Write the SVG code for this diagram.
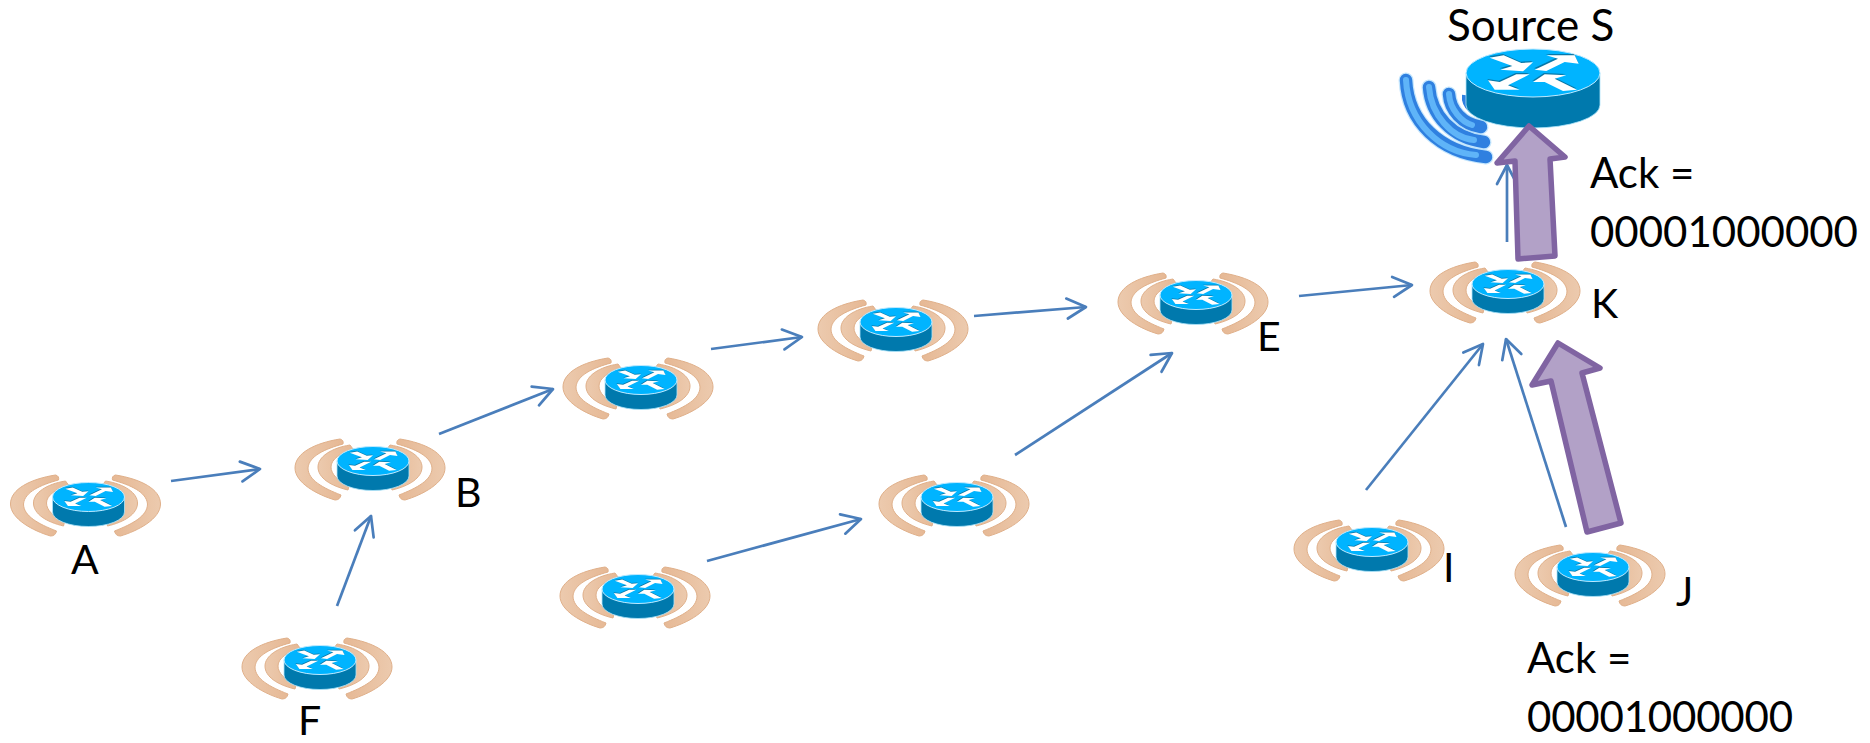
<svg xmlns="http://www.w3.org/2000/svg" width="1870" height="743" viewBox="0 0 1870 743">
<style>
text{font-family:"Lato","Open Sans","Liberation Sans",sans-serif;font-size:41px;fill:#000}
.c{fill:none;stroke:#4a7ebb;stroke-width:2.7;marker-end:url(#open)}
.big{fill:#b2a1c7;stroke:#8064a2;stroke-width:5.5;stroke-linejoin:round}
.arc{fill:url(#tan);stroke:#e0b08a;stroke-width:1}
.top{fill:#00b4ff;stroke:#bfeaff;stroke-width:1}
.body{fill:#0079ad;stroke:#aee4fa;stroke-width:.8}
.w1{fill:none;stroke:#9fd6fb;stroke-linecap:round;stroke-width:15;opacity:.6}
.w2{fill:none;stroke:#2f80e0;stroke-linecap:round;stroke-width:12.5}
.w3{fill:none;stroke:#5fb4f8;stroke-linecap:round;stroke-width:6}
</style>
<defs>
<linearGradient id="tan" x1="0" y1="0" x2="1" y2="0"><stop offset="0" stop-color="#eccaae"/><stop offset="1" stop-color="#e6b894"/></linearGradient>
<marker id="open" markerUnits="userSpaceOnUse" markerWidth="30" markerHeight="30" refX="24" refY="15" orient="auto"><path d="M5,5 L24,15 L5,25" fill="none" stroke="#4a7ebb" stroke-width="2.7" stroke-linecap="round" stroke-linejoin="round"/></marker>
<g id="m">
<polygon points="330,172 372,165 425,188 460,186 430,213 362,208 398,197"/>
<polygon points="465,208 535,175 500,165 585,165 597,190 555,185 500,212"/>
<polygon points="450,222 410,222 360,245 325,240 345,268 420,268 385,255"/>
<polygon points="460,245 495,222 560,225 525,235 592,268 550,272 495,245"/>
</g>
<g id="marks">
<use href="#m" fill="#12303f" x="-2" y="-4" opacity=".45"/>
<use href="#m" fill="#fff"/>
</g>
<g id="router">
<path class="body" d="M-36,0 V15 A36,14.5 0 0 0 36,15 V0Z"/>
<ellipse class="top" cx="0" cy="0" rx="36" ry="14.5"/>
<g transform="scale(.179) translate(-460 -218)"><use href="#marks"/></g>
</g>
<g id="arcs">
<path id="o" class="arc" d="M-33,-22 C-58,-18 -78,-8 -78,7 C-78,22 -55,34 -38,39 Q-33,39 -32,34 C-50,27 -65,19 -65,7 C-64,-5 -48,-12 -30,-17 Q-29,-21 -33,-22Z"/>
<path id="i" class="arc" d="M-23,-16 C-42,-13 -55,-4 -55,6 C-55,17 -42,25 -25,29 L-24,25 C-35,20 -42,13 -42,6 C-42,-2 -32,-8 -20,-12Z"/>
<g transform="translate(-6 0) scale(-1 1)"><use href="#o"/><use href="#i"/></g>
</g>
<g id="wnode"><use href="#arcs"/><use href="#router"/></g>
</defs>

<g id="connectors">
<line class="c" x1="171" y1="481" x2="260" y2="469"/>
<line class="c" x1="337" y1="606" x2="371" y2="516"/>
<line class="c" x1="439" y1="434" x2="553" y2="389"/>
<line class="c" x1="711" y1="349" x2="802" y2="337"/>
<line class="c" x1="974" y1="316" x2="1086" y2="307"/>
<line class="c" x1="1299" y1="296" x2="1412" y2="285"/>
<line class="c" x1="707" y1="561" x2="861" y2="519"/>
<line class="c" x1="1015" y1="455" x2="1172" y2="353"/>
<line class="c" x1="1366" y1="490" x2="1483" y2="344"/>
<line class="c" x1="1566" y1="527" x2="1506" y2="339"/>
<line class="c" x1="1507" y1="242" x2="1507" y2="165"/>
</g>

<g id="node-a"><use href="#wnode" x="88.5" y="497"/><text x="71" y="574">A</text></g>
<g id="node-b"><use href="#wnode" x="373" y="461"/><text x="455" y="507">B</text></g>
<g id="node-f"><use href="#wnode" x="320" y="660"/><text x="298" y="735">F</text></g>
<g id="node-c"><use href="#wnode" x="641" y="380"/></g>
<g id="node-d"><use href="#wnode" x="896" y="322"/></g>
<g id="node-e"><use href="#wnode" x="1196" y="295"/><text x="1257" y="351">E</text></g>
<g id="node-k"><use href="#wnode" x="1508" y="284"/><text x="1591" y="318">K</text></g>
<g id="node-g"><use href="#wnode" x="638" y="589"/></g>
<g id="node-h"><use href="#wnode" x="957" y="497"/></g>
<g id="node-i"><use href="#wnode" x="1372" y="542"/><text x="1443" y="582">I</text></g>
<g id="node-j"><use href="#wnode" x="1593" y="567"/><text x="1676" y="606">J</text></g>

<g id="node-s">
<g>
<path d="M1464,95 Q1463,104 1470,110" fill="none" stroke="#2f80e0" stroke-width="4"/>
<path class="w1" d="M1406,80 C1408,122 1440,152 1486,157"/>
<path class="w2" d="M1406,80 C1408,122 1440,152 1486,157"/>
<path class="w3" d="M1406,80 C1408,122 1440,152 1476,155"/>
<path class="w1" d="M1429,87 C1431,115 1452,138 1484,142"/>
<path class="w2" d="M1429,87 C1431,115 1452,138 1484,142"/>
<path class="w3" d="M1429,87 C1431,115 1452,138 1474,140"/>
<path class="w1" d="M1449,94 C1450,110 1462,124 1481,127"/>
<path class="w2" d="M1449,94 C1450,110 1462,124 1481,127"/>
<path class="w3" d="M1449,94 C1450,110 1462,122 1472,125"/>
</g>
<path class="body" d="M1466,73 V105 A67,23 0 0 0 1600,105 V73Z"/>
<ellipse class="top" cx="1533" cy="73" rx="67" ry="24"/>
<g transform="translate(1533 73) scale(.3333) translate(-460 -218)"><use href="#marks"/></g>
<text x="1447" y="41" style="font-size:44px">Source S</text>
</g>

<g id="ack-arrows">
<polygon class="big" points="1529,126 1565,157 1550,159 1555,256 1518,259 1515,161 1497,163"/>
<polygon class="big" points="1558,343 1600,368 1582,373 1621,523 1587,532 1551,381 1532,385"/>
</g>

<g id="ack-labels">
<text x="1590" y="188" style="font-size:42px">Ack =</text>
<text x="1590" y="247" style="font-size:42px">00001000000</text>
<text x="1527" y="673" style="font-size:42px">Ack =</text>
<text x="1527" y="732" style="font-size:42px" textLength="266">00001000000</text>
</g>
</svg>
